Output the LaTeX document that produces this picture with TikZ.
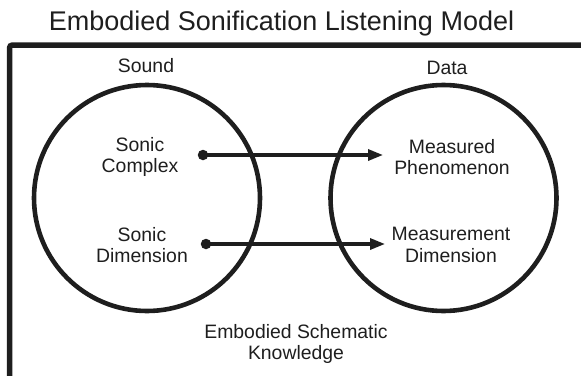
\documentclass[tikz,border=0pt]{standalone}
\usepackage{fontspec}
\setmainfont{Liberation Sans}
\usepackage{tikz}
\usetikzlibrary{arrows.meta}
\definecolor{esl-ink}{RGB}{30, 30, 30}

\begin{document}
\begin{tikzpicture}[x=1pt, y=-1pt, font=\fontsize{19.4}{21.5}\selectfont, text=esl-ink,
    realm/.style={draw=esl-ink, circle, line width=4.6pt, minimum size=226pt, inner sep=0pt},
    concept/.style={align=center, inner sep=0pt},
    dot/.style={fill=esl-ink, circle, minimum size=10.5pt, inner sep=0pt},
    link/.style={draw=esl-ink, line width=3.2pt, -{Triangle[length=15pt, width=11pt]}}]
  \useasboundingbox (0, 0) rectangle (581, 375);

  \node[anchor=base, font=\fontsize{27}{30}\selectfont] (title) at (281.5, 30) {Embodied Sonification Listening Model};
  \draw[esl-ink, line width=5.5pt, rounded corners=3pt] (600, 45) -- (9.5, 45) -- (9.5, 390);

  \node[realm] (sound) at (147, 198) {};
  \node[realm] (data) at (443.5, 198) {};
  \node[anchor=base] (soundlabel) at (146, 72) {Sound};
  \node[anchor=base] (datalabel) at (447, 74) {Data};

  \node[concept] (complex) at (140, 157) {Sonic\\Complex};
  \node[concept] (sdim) at (142, 245) {Sonic\\Dimension};
  \node[concept] (phen) at (452, 157) {Measured\\Phenomenon};
  \node[concept] (mdim) at (451, 245) {Measurement\\Dimension};

  \node[dot] (complexdot) at (203, 155) {};
  \node[dot] (sdimdot) at (206, 244) {};
  \coordinate (phentip) at (383, 155);
  \coordinate (mdimtip) at (385, 244);
  \draw[link] (complexdot.center) -- (phentip);
  \draw[link] (sdimdot.center) -- (mdimtip);

  \node[concept] (schema) at (296, 344) {Embodied Schematic\\Knowledge};
\end{tikzpicture}
\end{document}
